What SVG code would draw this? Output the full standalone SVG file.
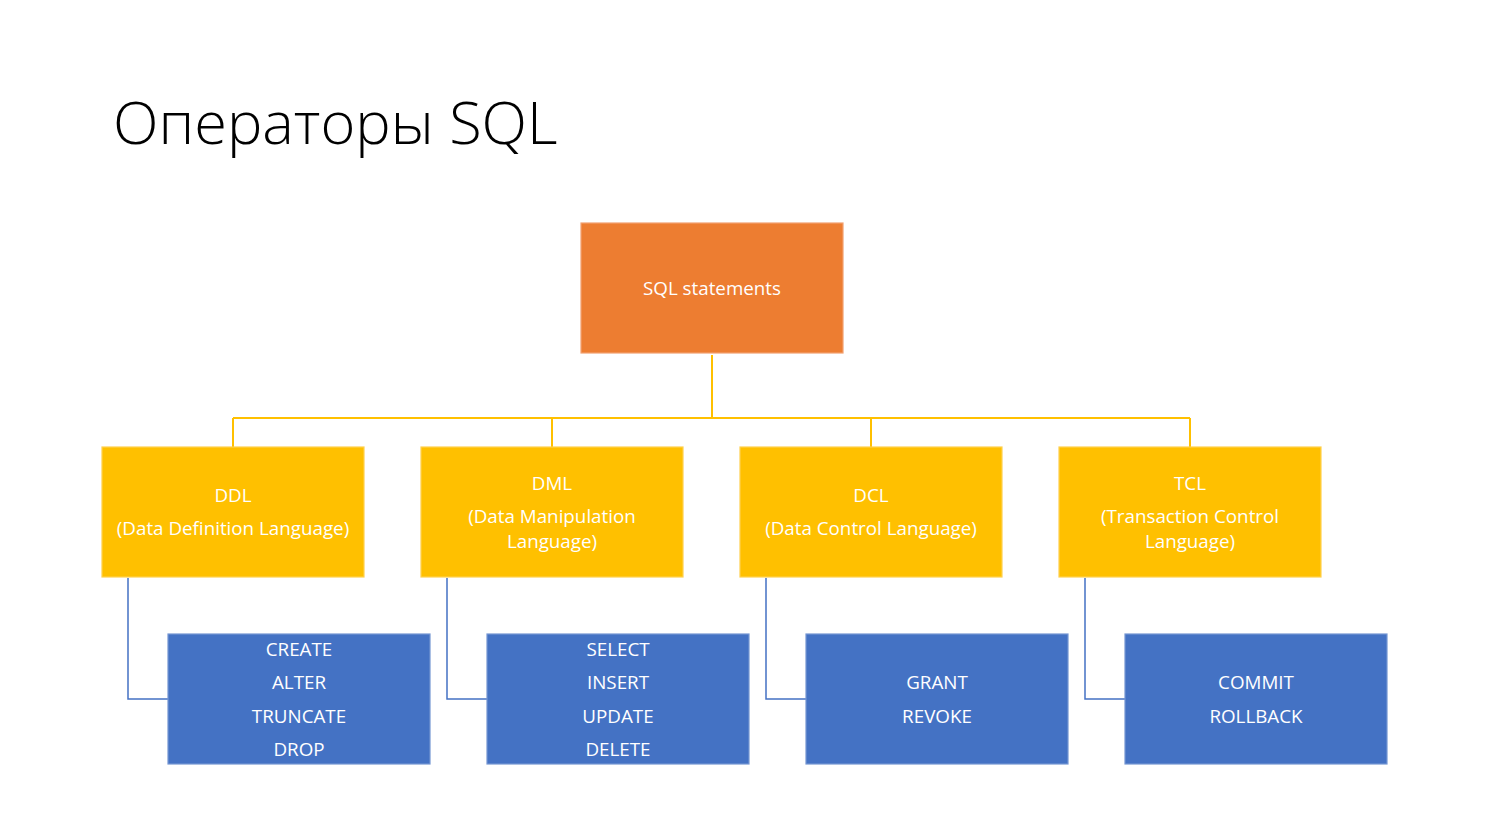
<svg xmlns="http://www.w3.org/2000/svg" width="1489" height="836" viewBox="0 0 1489 836">
<style>
.t{font-family:"Open Sans","Liberation Sans",sans-serif;font-size:18.8px;fill:#fff;text-anchor:middle}
.title{font-family:"Open Sans","Liberation Sans",sans-serif;font-weight:300;font-size:59.5px;fill:#000}
.o{fill:#ED7D31;stroke:#F2A070;stroke-width:1.2}
.y{fill:#FFC000;stroke:#FFD04D;stroke-width:1.2}
.b{fill:#4472C4;stroke:#7496D2;stroke-width:1.2}
.cy{fill:none;stroke:#FFC000;stroke-width:2}
.cb{fill:none;stroke:#4472C4;stroke-width:1.5}
</style>
<rect width="1489" height="836" fill="#fff"/>
<text class="title" x="113" y="144">Операторы SQL</text>
<g id="connectors">
<path class="cy" d="M712 355V418M233 418H1190M233 418V447M552 418V447M871 418V447M1190 418V447"/>
<path class="cb" d="M128 578V699H168M447 578V699H487M766 578V699H806M1085 578V699H1125"/>
</g>
<g id="root"><rect class="o" x="581" y="223" width="262" height="130"/><text class="t" x="712" y="295">SQL statements</text></g>
<g id="ddl"><rect class="y" x="102" y="447" width="262" height="130"/><text class="t" x="233" y="502">DDL</text><text class="t" x="233" y="535">(Data Definition Language)</text></g>
<g id="dml"><rect class="y" x="421" y="447" width="262" height="130"/><text class="t" x="552" y="490">DML</text><text class="t" x="552" y="523">(Data Manipulation</text><text class="t" x="552" y="548">Language)</text></g>
<g id="dcl"><rect class="y" x="740" y="447" width="262" height="130"/><text class="t" x="871" y="502">DCL</text><text class="t" x="871" y="535">(Data Control Language)</text></g>
<g id="tcl"><rect class="y" x="1059" y="447" width="262" height="130"/><text class="t" x="1190" y="490">TCL</text><text class="t" x="1190" y="523">(Transaction Control</text><text class="t" x="1190" y="548">Language)</text></g>
<g id="ddl-ops"><rect class="b" x="168" y="634" width="262" height="130"/><text class="t" x="299" y="656">CREATE</text><text class="t" x="299" y="689">ALTER</text><text class="t" x="299" y="723">TRUNCATE</text><text class="t" x="299" y="756">DROP</text></g>
<g id="dml-ops"><rect class="b" x="487" y="634" width="262" height="130"/><text class="t" x="618" y="656">SELECT</text><text class="t" x="618" y="689">INSERT</text><text class="t" x="618" y="723">UPDATE</text><text class="t" x="618" y="756">DELETE</text></g>
<g id="dcl-ops"><rect class="b" x="806" y="634" width="262" height="130"/><text class="t" x="937" y="689">GRANT</text><text class="t" x="937" y="723">REVOKE</text></g>
<g id="tcl-ops"><rect class="b" x="1125" y="634" width="262" height="130"/><text class="t" x="1256" y="689">COMMIT</text><text class="t" x="1256" y="723">ROLLBACK</text></g>
</svg>
